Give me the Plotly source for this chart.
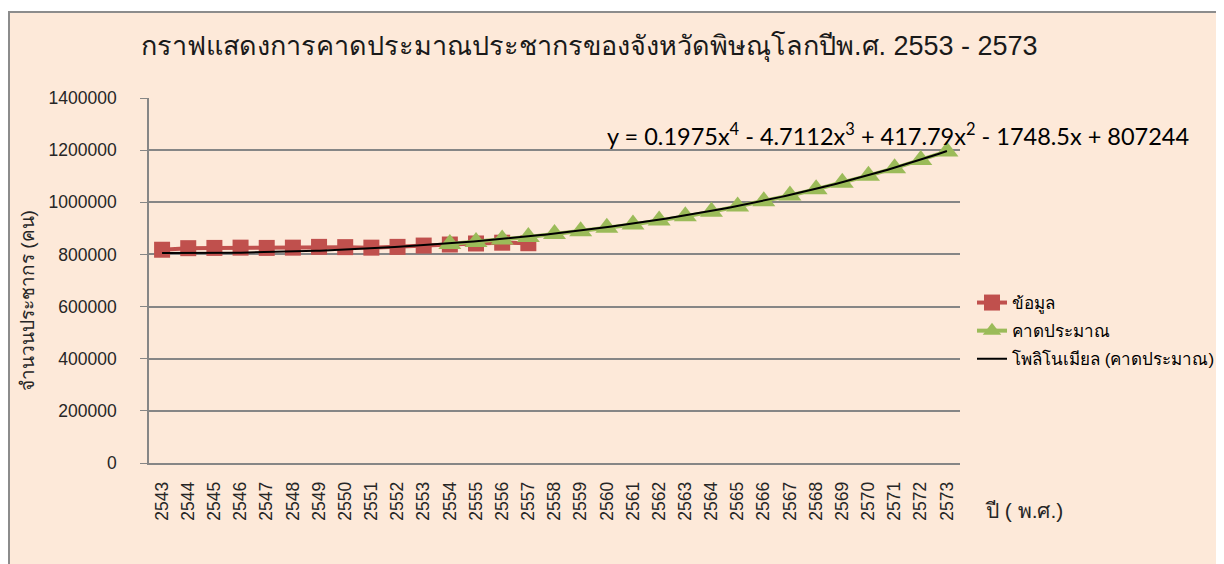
import numpy as np
import plotly.graph_objects as go

years_actual = list(range(2543, 2558))
actual = [818000, 824000, 825000, 826000, 825000, 826000, 829000, 828000,
          826000, 829000, 834000, 838000, 842000, 845000, 843000]

years_forecast = list(range(2554, 2574))
forecast = [840000, 848000, 857000, 867000, 878000, 889000, 902000, 915000,
            930000, 946000, 964000, 984000, 1004000, 1026000, 1050000, 1075000,
            1102000, 1131000, 1162000, 1195000]

# polynomial trendline coefficients shown on the chart (x = 1 for 2543)
poly_coef = [0.1975, -4.7112, 417.79, -1748.5, 807244]

tick_years = list(range(2543, 2574))
y_ticks = [0, 200000, 400000, 600000, 800000, 1000000, 1200000, 1400000]

title_text = "กราฟแสดงการคาดประมาณประชากรของจังหวัดพิษณุโลกปีพ.ศ. 2553 - 2573"
eq_text = "y = 0.1975x<sup>4</sup> - 4.7112x<sup>3</sup> + 417.79x<sup>2</sup> - 1748.5x + 807244"

OFF = 8  # page body margin
W, H = 1216, 556
# page-pixel plot area: x 149..960, y 98..463
L, T = 149 - OFF, 98 - OFF
pw, ph = 811, 365
R, B = W - L - pw, H - T - ph

def px(xp):  # page x pixel -> paper
    return (xp - OFF - L) / pw

def py(yp):  # page y pixel -> paper
    return (T + ph - (yp - OFF)) / ph

tx = np.linspace(tick_years[0], tick_years[-1], 200)
ty = np.polyval(poly_coef, tx - 2542)

fig = go.Figure()
fig.add_trace(go.Scatter(
    x=years_actual, y=actual, name="ข้อมูล", mode="lines+markers",
    line=dict(color="#C0504D", width=4),
    marker=dict(symbol="square", size=16, color="#C0504D"),
    legendgroup="a"))
fig.add_trace(go.Scatter(
    x=years_forecast, y=forecast, name="คาดประมาณ", mode="lines+markers",
    line=dict(color="#9BBB59", width=4),
    marker=dict(symbol="triangle-up", size=20, color="#9BBB59"),
    legendgroup="b"))
fig.add_trace(go.Scatter(
    x=tx, y=ty, name="โพลิโนเมียล (คาดประมาณ)", mode="lines",
    line=dict(color="black", width=2), legendgroup="c"))

fig.update_layout(
    width=W, height=H,
    margin=dict(l=L, r=R, t=T, b=B, autoexpand=False),
    paper_bgcolor="white", plot_bgcolor="rgba(0,0,0,0)",
    font=dict(family="Liberation Sans, Noto Sans, sans-serif", size=17, color="#262626"),
    showlegend=True,
    legend=dict(x=px(972), y=py(285), xanchor="left", yanchor="top",
                bgcolor="rgba(0,0,0,0)", font=dict(size=17, color="black"),
                tracegroupgap=3, traceorder="grouped"),
    xaxis=dict(range=[2542.5, 2573.5], tickmode="array", tickvals=tick_years,
               ticktext=[str(v) for v in tick_years], tickangle=-90,
               showgrid=False, showline=True, linecolor="#868686", linewidth=1.5,
               ticks="", ticklabelstandoff=10, zeroline=False,
               tickfont=dict(size=17.5, color="#262626")),
    yaxis=dict(range=[0, 1400000], tickvals=y_ticks,
               ticktext=[str(v) for v in y_ticks],
               showgrid=True, gridcolor="#868686", gridwidth=1.5,
               showline=True, linecolor="#868686", linewidth=1.5,
               ticks="outside", ticklen=7, tickcolor="#868686",
               ticklabelstandoff=20, zeroline=False,
               tickfont=dict(size=17.5, color="#262626")),
)

# chart area background with border
fig.add_shape(type="rect", xref="paper", yref="paper",
              x0=px(9), x1=px(1260), y0=py(600), y1=py(12),
              fillcolor="#FDE9D9", line=dict(color="#8C8C8C", width=2),
              layer="below")

fig.add_annotation(text=title_text, xref="paper", yref="paper",
                   x=px(589), y=py(47), showarrow=False,
                   font=dict(size=27, color="#1a1a1a"), xanchor="center", yanchor="middle")
fig.add_annotation(text=eq_text, xref="paper", yref="paper",
                   x=px(605), y=py(134), showarrow=False,
                   font=dict(family="Lato, Open Sans, sans-serif", size=23.5, color="black"),
                   xanchor="left", yanchor="middle")
fig.add_annotation(text="จำนวนประชากร (คน)", xref="paper", yref="paper",
                   x=px(27), y=py(301), showarrow=False, textangle=-90,
                   font=dict(size=19, color="#262626"), xanchor="center", yanchor="middle")
fig.add_annotation(text="ปี ( พ.ศ.)", xref="paper", yref="paper",
                   x=px(983), y=py(510), showarrow=False,
                   font=dict(size=21, color="#262626"), xanchor="left", yanchor="middle")

fig.write_html("out.html")
